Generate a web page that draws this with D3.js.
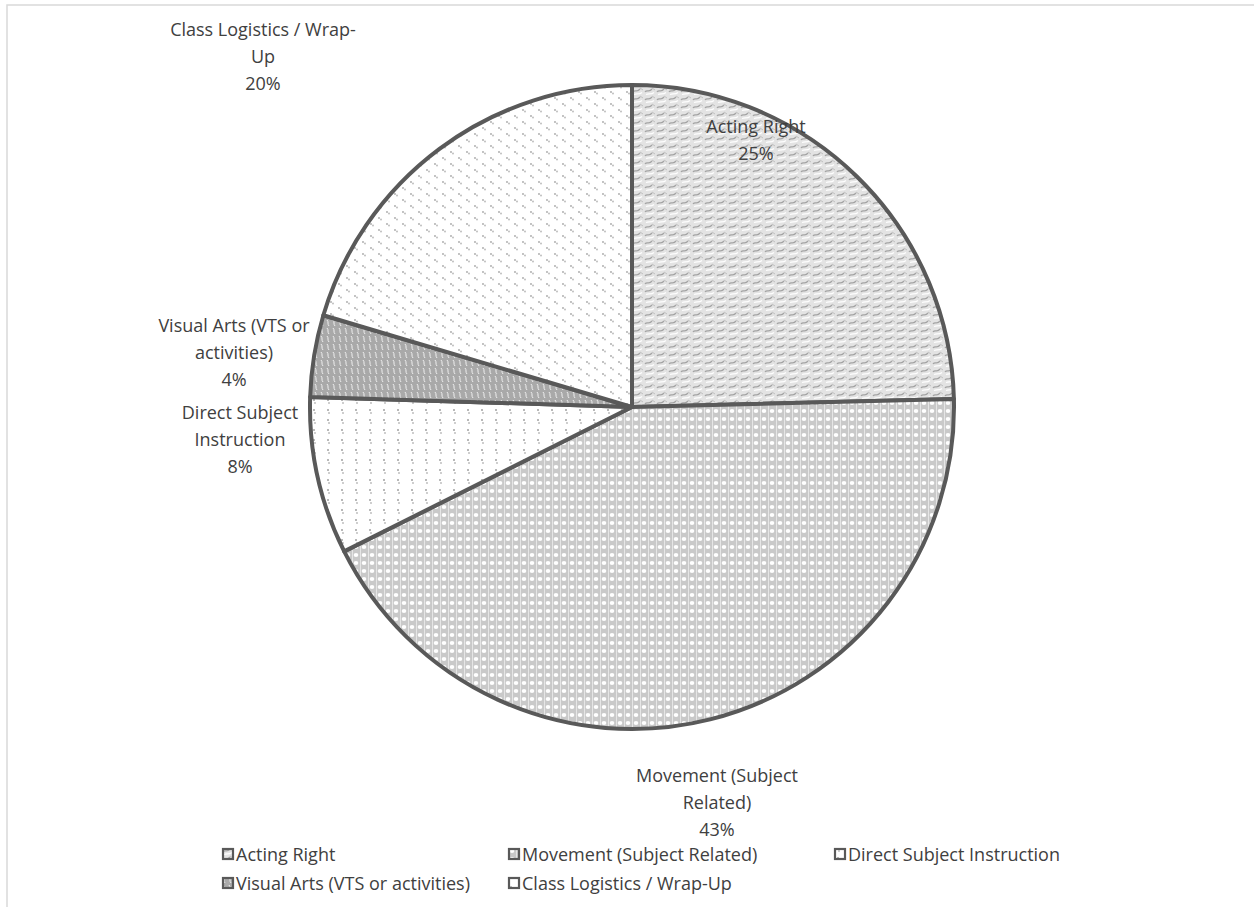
<!DOCTYPE html>
<html><head><meta charset="utf-8">
<script src="https://cdn.jsdelivr.net/npm/d3@7"></script>
<style>html,body{margin:0;padding:0;background:#fff;}svg{display:block;}</style>
</head><body>
<svg id="chart" width="1254" height="907"></svg>
<script>
// ---- data ----
const categories = ["Acting Right", "Movement (Subject Related)", "Direct Subject Instruction", "Visual Arts (VTS or activities)", "Class Logistics / Wrap-Up"];
const values = [24.6, 43.0, 7.9, 4.1, 20.4];
const pctLabels = ["25%", "43%", "8%", "4%", "20%"];
const labelLines = [["Acting Right"], ["Movement (Subject", "Related)"], ["Direct Subject", "Instruction"], ["Visual Arts (VTS or", "activities)"], ["Class Logistics / Wrap-", "Up"]];
const legendOrder = [0, 1, 2, 3, 4];

// ---- layout ----
const W = 1254, H = 907;
const cx = 632, cy = 407, R = 322;
const labelOffsets = [[124, -267], [85, 396], [-392, 33], [-398, -54], [-369, -350]];
const lineH = 27;
const fontFam = "'Open Sans', Lato, sans-serif";
const fontSize = 18;
const textColor = "#404040";
const strokeColor = "#595959";

const svg = d3.select("#chart");
const defs = svg.append("defs");

function pat(id, w, h, bg, draw) {
  const p = defs.append("pattern").attr("id", id).attr("patternUnits", "userSpaceOnUse")
    .attr("width", w).attr("height", h);
  p.append("rect").attr("width", w).attr("height", h).attr("fill", bg);
  draw(p);
}
// Acting Right: light grey wavy dashes
pat("p0", 12, 8, "#e3e3e3", p => {
  p.append("path").attr("d", "M1,5 C3,2 5,6 8,2").attr("stroke", "#a4a4a4").attr("stroke-width", 1.3).attr("fill", "none");
  p.append("path").attr("d", "M2,7.5 C5,6 7,8 10,5.5").attr("stroke", "#ffffff").attr("stroke-width", 1.2).attr("fill", "none");
  p.append("path").attr("d", "M8,1 L11,3").attr("stroke", "#c0c0c0").attr("stroke-width", 1);
});
// Movement: grid of rings
pat("p1", 8, 8, "#c9c9c9", p => {
  p.append("ellipse").attr("cx", 4).attr("cy", 4).attr("rx", 2.3).attr("ry", 2).attr("fill", "#ffffff");
  p.append("rect").attr("x", 0).attr("y", 0).attr("width", 1).attr("height", 8).attr("fill", "#e6e6e6");
});
// Direct: white with columns of dots
pat("p2", 14, 10, "#ffffff", p => {
  p.append("circle").attr("cx", 4).attr("cy", 3).attr("r", 1).attr("fill", "#a0a0a0");
  p.append("circle").attr("cx", 5).attr("cy", 6).attr("r", 0.9).attr("fill", "#b8b8b8");
});
// Visual Arts: dark grey with white waves
pat("p3", 6, 8, "#a9a9a9", p => {
  p.append("path").attr("d", "M1,1 C3,3 1,5 3,7").attr("stroke", "#f0f0f0").attr("stroke-width", 1).attr("fill", "none");
});
// Class Logistics: white with scattered dots
pat("p4", 16, 12, "#ffffff", p => {
  p.append("circle").attr("cx", 3).attr("cy", 3).attr("r", 0.9).attr("fill", "#a8a8a8");
  p.append("circle").attr("cx", 5).attr("cy", 4.5).attr("r", 0.9).attr("fill", "#b8b8b8");
  p.append("circle").attr("cx", 11).attr("cy", 9).attr("r", 0.9).attr("fill", "#a8a8a8");
  p.append("circle").attr("cx", 13).attr("cy", 10.5).attr("r", 0.9).attr("fill", "#b8b8b8");
});

// frame
svg.append("rect").attr("x", 7).attr("y", 5).attr("width", W + 20).attr("height", H + 20)
  .attr("fill", "none").attr("stroke", "#d9d9d9").attr("stroke-width", 1.5);

const color = d3.scaleOrdinal().domain(categories).range(categories.map((c, i) => `url(#p${i})`));

const pie = d3.pie().sort(null).value(d => d.v);
const data = categories.map((c, i) => ({ c, v: values[i], i }));
const arcs = pie(data);
const arc = d3.arc().innerRadius(0).outerRadius(R);

const g = svg.append("g").attr("transform", `translate(${cx},${cy})`);
g.selectAll("path.slice").data(arcs).join("path").attr("class", "slice")
  .attr("d", arc).attr("fill", d => color(d.data.c))
  .attr("stroke", strokeColor).attr("stroke-width", 4).attr("stroke-linejoin", "round");

// labels
arcs.forEach((a, i) => {
  const lines = labelLines[i].concat([pctLabels[i]]);
  const [dx, dy] = labelOffsets[i];
  const top = dy - (lines.length - 1) * lineH / 2;
  const t = g.append("text").attr("text-anchor", "middle").attr("font-family", fontFam)
    .attr("font-size", fontSize).attr("fill", textColor);
  lines.forEach((ln, k) => {
    t.append("tspan").attr("x", dx).attr("y", top + k * lineH).attr("dy", "0.35em").text(ln);
  });
});

// legend
const legCols = [222, 508, 834];
const legRows = [855, 884];
legendOrder.forEach((idx, k) => {
  const x = legCols[k % 3], y = legRows[Math.floor(k / 3)];
  const lg = svg.append("g").attr("transform", `translate(${x},${y})`);
  lg.append("rect").attr("x", 1).attr("y", -6).attr("width", 10).attr("height", 10)
    .attr("fill", color(categories[idx])).attr("stroke", strokeColor).attr("stroke-width", 2.2);
  lg.append("text").attr("x", 14).attr("y", 0).attr("dy", "0.35em")
    .attr("font-family", fontFam).attr("font-size", fontSize).attr("fill", textColor).text(categories[idx]);
});
</script>
</body></html>
